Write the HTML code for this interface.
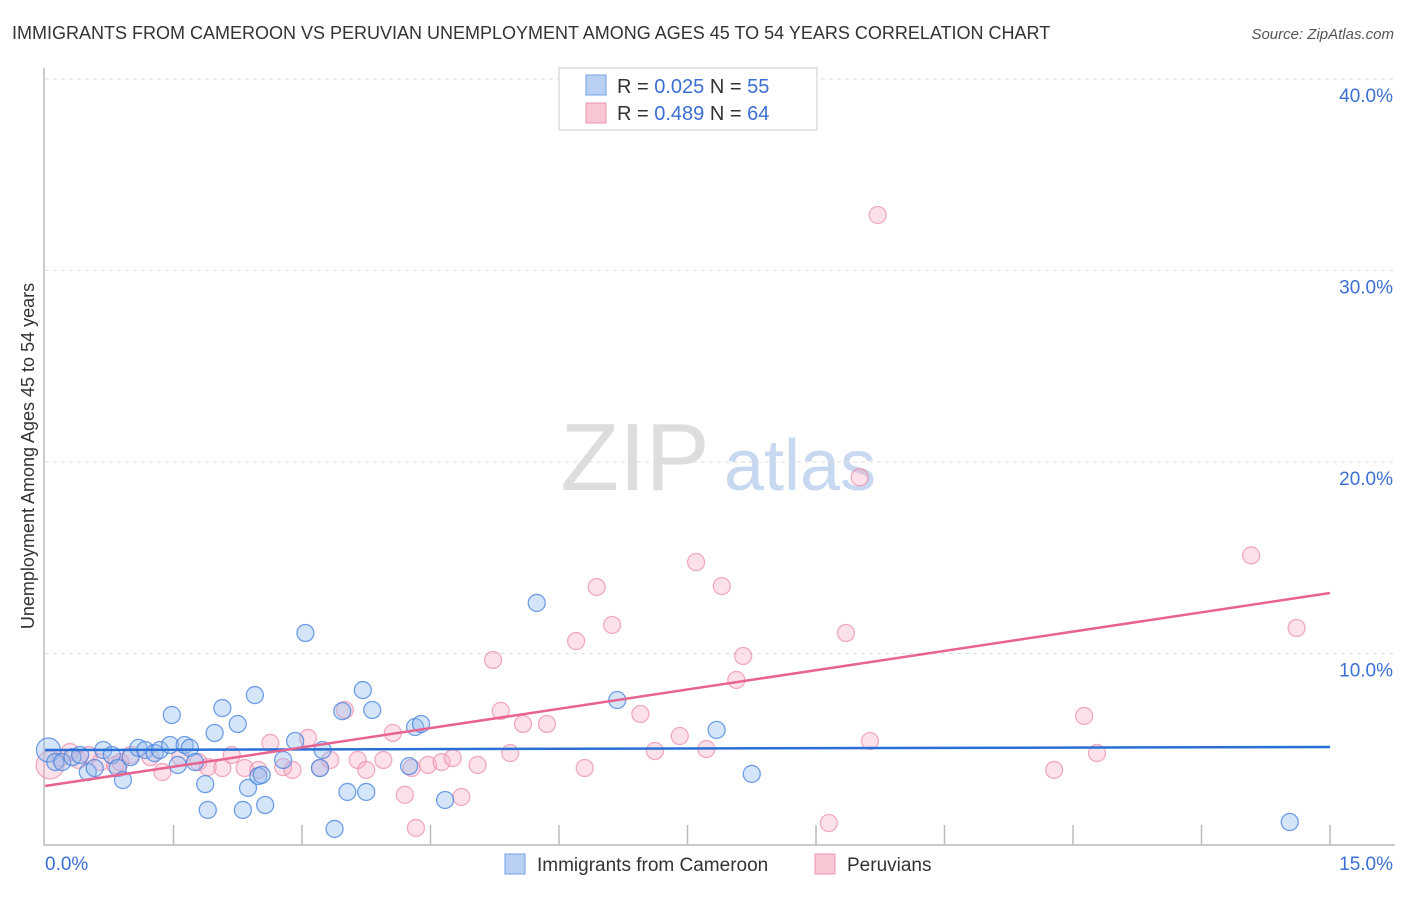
<!DOCTYPE html>
<html><head><meta charset="utf-8"><style>
body{margin:0;background:#fff;font-family:"Liberation Sans",sans-serif;}
svg text{font-family:"Liberation Sans",sans-serif;}
</style></head><body>
<svg id="chart" width="1406" height="892">
<text x="12" y="39" font-size="18" fill="#333">IMMIGRANTS FROM CAMEROON VS PERUVIAN UNEMPLOYMENT AMONG AGES 45 TO 54 YEARS CORRELATION CHART</text>
<text x="1394" y="39" font-size="15" fill="#555" font-style="italic" text-anchor="end">Source: ZipAtlas.com</text>
<text x="635" y="490" font-size="96" fill="#ddd" font-family="Liberation Serif" text-anchor="middle">ZIP</text>
<text x="800" y="490" font-size="72" fill="#c8d8f0" text-anchor="middle">atlas</text>
<text transform="translate(34,456) rotate(-90)" font-size="18" fill="#333" text-anchor="middle">Unemployment Among Ages 45 to 54 years</text>
<g id="grid"></g><g id="pts"></g><g id="lines"></g>
<g>
<rect x="559" y="68" width="258" height="62" fill="#fff" stroke="#ccc"/>
<rect x="586" y="75" width="20" height="20" fill="#b8d0f4" stroke="#6f9fe0"/>
<rect x="586" y="103" width="20" height="20" fill="#f9c6d4" stroke="#eb94ad"/>
<text x="617" y="93" font-size="20" fill="#333">R = <tspan fill="#3b6fd4">0.025</tspan>   N = <tspan fill="#3b6fd4">55</tspan></text>
<text x="617" y="120" font-size="20" fill="#333">R = <tspan fill="#3b6fd4">0.489</tspan>   N = <tspan fill="#3b6fd4">64</tspan></text>
</g>
<g>
<rect x="505" y="854" width="20" height="20" fill="#b8d0f4" stroke="#6f9fe0"/>
<text x="537" y="871" font-size="19" fill="#333">Immigrants from Cameroon</text>
<rect x="815" y="854" width="20" height="20" fill="#f9c6d4" stroke="#eb94ad"/>
<text x="847" y="871" font-size="19" fill="#333">Peruvians</text>
</g>
</svg>
<script>
const yTicks=[10,20,30,40];
const xTickLabels=["0.0%","15.0%"];
const blueX=[0.04,0.12,0.2,0.32,0.41,0.5,0.58,0.68,0.78,0.85,0.91,1.0,1.09,1.17,1.28,1.34,1.46,1.48,1.55,1.63,1.69,1.75,1.87,1.90,1.98,2.07,2.25,2.31,2.37,2.45,2.49,2.53,2.57,2.78,2.92,3.04,3.21,3.24,3.38,3.47,3.53,3.71,3.75,3.82,4.25,4.32,4.39,4.67,5.74,6.68,7.84,8.25,14.53];
const blueY=[4.96,4.33,4.33,4.59,4.70,3.81,4.02,4.96,4.70,4.02,3.39,4.59,5.07,4.96,4.80,4.96,5.22,6.79,4.18,5.22,5.07,4.33,3.18,1.83,5.85,7.15,6.32,1.83,2.98,7.83,3.60,3.66,2.09,4.44,5.43,11.07,4.02,4.96,0.84,6.99,2.77,8.09,2.77,7.05,4.12,6.16,6.32,2.35,12.64,7.57,6.01,3.71,1.20];
const pinkX=[0.06,0.18,0.29,0.39,0.51,0.65,0.82,0.88,1.0,1.23,1.37,1.58,1.79,1.90,2.07,2.18,2.33,2.49,2.63,2.78,2.89,3.07,3.21,3.33,3.50,3.65,3.75,3.95,4.06,4.20,4.28,4.33,4.47,4.63,4.76,4.86,5.05,5.23,5.32,5.43,5.58,5.86,6.20,6.30,6.44,6.62,6.95,7.12,7.41,7.60,7.72,7.90,8.07,8.15,9.15,9.35,9.63,9.72,9.51,11.78,12.13,12.28,14.08,14.61];
const pinkY=[4.18,4.54,4.86,4.44,4.70,4.33,4.18,4.33,4.70,4.59,3.81,4.59,4.33,4.07,4.02,4.70,4.02,3.92,5.33,4.07,3.92,5.59,4.02,4.44,7.05,4.44,3.92,4.44,5.85,2.62,4.02,0.89,4.18,4.33,4.54,2.51,4.18,9.66,7.00,4.80,6.32,6.32,10.65,4.02,13.47,11.49,6.84,4.91,5.69,14.77,5.01,13.52,8.62,9.87,1.15,11.07,5.43,32.9,19.2,3.92,6.74,4.80,15.12,11.33];
const blueTrend=[4.96,5.12];
const pinkTrend=[3.08,13.16];
const xMin=0,xMax=15;
const NS="http://www.w3.org/2000/svg";
function sx(v){return 45+(v-xMin)/(xMax-xMin)*1285;}
function sy(v){return 845-v*19.15;}
function mk(tag,attrs,parent){const e=document.createElementNS(NS,tag);for(const k in attrs)e.setAttribute(k,attrs[k]);parent.appendChild(e);return e;}
const grid=document.getElementById('grid');
yTicks.forEach(t=>{
 const l=mk('line',{x1:45,x2:1395,y1:sy(t),y2:sy(t),stroke:'#ddd','stroke-dasharray':'4,4'},grid);
 
 
 const tx=mk('text',{x:1393,y:sy(t)+23,'font-size':19,fill:'#3b6fd4','text-anchor':'end'},grid);
 tx.textContent=t.toFixed(1)+'%';
 
 
});
const ax=mk('path',{d:'M44,68 V845 H1395',stroke:'#bbb',fill:'none','stroke-width':1.5},grid);


for(let i=1;i<=10;i++){
 const x=sx(i*1.5);
 const t=mk('line',{x1:x,x2:x,y1:825,y2:845,stroke:'#bbb','stroke-width':1.5},grid);
 
 
}
const xl0=mk('text',{x:45,y:870,'font-size':19,fill:'#3b6fd4'},grid);xl0.textContent=xTickLabels[0];


const xl1=mk('text',{x:1393,y:870,'font-size':19,fill:'#3b6fd4','text-anchor':'end'},grid);xl1.textContent=xTickLabels[1];


const pts=document.getElementById('pts');
pinkX.forEach((x,i)=>{
 const c=mk('circle',{cx:sx(x),cy:sy(pinkY[i]),r:i==0?14:8.5,fill:'rgba(246,170,195,0.35)',stroke:'rgba(235,140,170,0.7)','stroke-width':1.3},pts);
 
 
});
blueX.forEach((x,i)=>{
 const c=mk('circle',{cx:sx(x),cy:sy(blueY[i]),r:i==0?12:8.5,fill:'rgba(150,190,240,0.4)',stroke:'rgba(70,130,220,0.75)','stroke-width':1.3},pts);
 
 
});
const lines=document.getElementById('lines');
const bl=mk('line',{x1:sx(0),x2:sx(15),y1:sy(blueTrend[0]),y2:sy(blueTrend[1]),stroke:'#2a6fd6','stroke-width':2.5},lines);


const pl=mk('line',{x1:sx(0),x2:sx(15),y1:sy(pinkTrend[0]),y2:sy(pinkTrend[1]),stroke:'#e8638f','stroke-width':2.5},lines);


</script>
</body></html>
